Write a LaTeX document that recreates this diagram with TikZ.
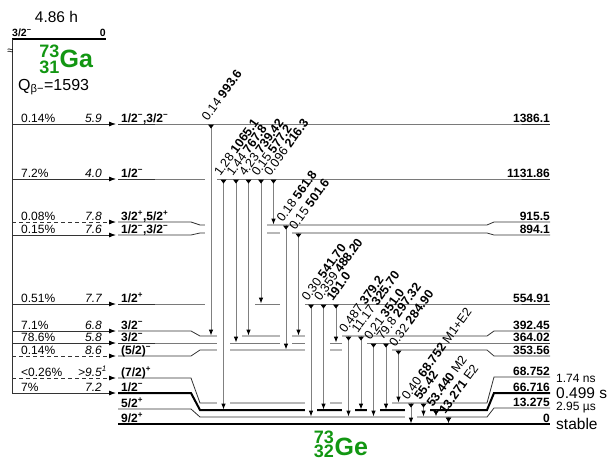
\documentclass[tikz,border=0pt]{standalone}
\usepackage{fontspec}
\setmainfont{Liberation Sans}
\usetikzlibrary{arrows.meta}
\definecolor{nucgreen}{RGB}{18,150,18}
\newcommand{\fsz}[1]{\fontsize{#1}{#1}\selectfont}
\newcommand{\smin}{\textsuperscript{−}}
\newcommand{\spl}{\textsuperscript{+}}
% gamma rays: x / from y / to y / label
\newcommand{\gammalist}{
  211/124/336/{0.14 \textbf{993.6}},
  223.5/179/410/{1.28 \textbf{1065.1}},
  236/179/343/{1.44 \textbf{767.8}},
  248.5/179/336/{4.23 \textbf{739.42}},
  261/179/304/{0.15 \textbf{577.2}},
  273.5/179/225/{0.096 \textbf{216.3}},
  286/225/350/{0.18 \textbf{561.8}},
  298.5/233/336/{0.15 \textbf{501.6}},
  311/304/417/{0.30 \textbf{541.70}},
  323.5/304/410/{0.359 \textbf{488.20}},
  336/304/343/{\textbf{191.0}},
  348.5/336/417/{0.487 \textbf{379.2}},
  361/336/410/{11.17 \textbf{325.70}},
  373.5/343/417/{0.21 \textbf{351.0}},
  386/343/410/{79.8 \textbf{297.32}},
  398.5/350/403/{0.32 \textbf{284.90}},
  411/403/424/{0.40 \textbf{68.752} M1+E2},
  423.5/403/417/{\textbf{55.42}},
  436/410/417/{\textbf{53.440} M2},
  448.5/417/424/{\textbf{13.271} E2}}

\begin{document}
\begin{tikzpicture}[x=1pt, y=-1pt,
  every node/.style={inner sep=0pt, font=\fsz{12}},
  lev/.style={black!80, line width=0.8pt},
  levthick/.style={black, line width=2pt},
  beta/.style={black!80, line width=0.8pt, -{Latex[length=7pt,width=5pt,color=black]}},
  betadash/.style={beta, dash pattern=on 4pt off 3pt},
  halo/.style={white, line width=12.5pt},
  gtrans/.style={black!50, line width=0.9pt, -{Latex[length=6pt,width=4.5pt,color=black]}},
  glab/.style={rotate=54, anchor=south west, font=\fsz{12.5}},
  spin/.style={anchor=base west, font=\fsz{12}\bfseries},
  ener/.style={anchor=base east, font=\fsz{12}\bfseries},
  nuc/.style={nucgreen, font=\fsz{18}\bfseries}]
  \useasboundingbox (0,0) rectangle (608,461);

  % parent
  \node[font=\fsz{15.5}] (hl) at (56.5,17) {4.86 h};
  \draw[levthick] (12,38.5) -- (106,38.5);
  \node[anchor=base west, font=\fsz{10.5}\bfseries] (pspin) at (12,36) {3/2\smin};
  \node[anchor=base east, font=\fsz{10.5}\bfseries] (pen) at (106,36) {0};
  \draw[lev] (12,38.5) -- (12,393);
  \node[font=\fsz{11}] (brk) at (10.5,52) {≈};
  \node[nuc, anchor=east] (gaA) at (59.5,51.5) {73};
  \node[nuc, anchor=east] (gaZ) at (59.5,67.5) {31};
  \node[nuc, anchor=west, font=\fsz{25}\bfseries] (ga) at (59.5,58.5) {Ga};
  \node[anchor=west, font=\fsz{16}] (qb) at (18,87) {Q\textsubscript{β−}=1593};

  % beta branches
  \foreach \y/\pc/\ft/\sty [count=\i] in {124/0.14\%/5.9/beta, 179/7.2\%/4.0/beta,
      222/0.08\%/7.8/betadash, 235/0.15\%/7.6/beta, 304/0.51\%/7.7/beta,
      331/7.1\%/6.8/beta, 343/78.6\%/5.8/beta, 356/0.14\%/8.6/betadash,
      378/{<0.26\%}/{>9.5\rlap{\textsuperscript{1}}}/betadash, 393/7\%/7.2/beta}
  {
    \draw[\sty] (12,\y) -- (116,\y);
    \node[anchor=base west] (p\i) at (21,\y-1.8) {\pc};
    \node[anchor=base east, font=\fsz{12}\itshape] (f\i) at (102,\y-1.8) {\ft};
  }

  % levels of 73Ge
  \foreach \yl/\ym/\yr/\w/\spn/\en [count=\i] in {
      124/124/124/lev/{1/2\smin,3/2\smin}/1386.1,
      179/179/179/lev/{1/2\smin}/1131.86,
      222/225/222/lev/{3/2\spl,5/2\spl}/915.5,
      235/233/235/lev/{1/2\smin,3/2\smin}/894.1,
      304/304/304/lev/{1/2\spl}/554.91,
      331/336/331/lev/{3/2\smin}/392.45,
      343/343/343/lev/{3/2\smin}/364.02,
      356/350/356/lev/{(5/2)\smin}/353.56,
      378/403/377/lev/{(7/2)\spl}/68.752,
      393/410/393/levthick/{1/2\smin}/66.716,
      409/417/408/lev/{5/2\spl}/13.275,
      424/424/424/levthick/{9/2\spl}/0}
  {
    \draw[\w] (118,\yl) -- (191,\yl) -- (200,\ym) -- (487,\ym) -- (494,\yr) -- (550,\yr);
    \node[spin] (s\i) at (121,\yl-1.8) {\spn};
    \node[ener] (e\i) at (550,\yr-1.8) {\en};
  }
  \node[anchor=west] (t1) at (556,378) {1.74 ns};
  \node[anchor=west, font=\fsz{15.5}] (t2) at (556,393) {0.499 s};
  \node[anchor=west] (t3) at (556,408) {2.95 µs};
  \node[anchor=west, font=\fsz{15.5}] (t4) at (556,424) {stable};

  % gamma rays
  \foreach \x/\ya/\yb/\lab in \gammalist
    \draw[halo] (\x,\ya+3) -- (\x,\yb-3);
  \foreach \x/\ya/\yb/\lab [count=\i] in \gammalist
  {
    \draw[gtrans] (\x,\ya) -- (\x,\yb-0.4);
    \fill (\x-3,\ya+0.5) -- (\x+3,\ya+0.5) -- (\x,\ya+4.5) -- cycle;
    \node[glab] (g\i) at (\x-3,\ya-2) {\lab};
  }

  \node[nuc, anchor=east] (geA) at (334,437.5) {73};
  \node[nuc, anchor=east] (geZ) at (334,451.5) {32};
  \node[nuc, anchor=west, font=\fsz{25}\bfseries] (ge) at (334.5,446.5) {Ge};
\end{tikzpicture}
\end{document}
